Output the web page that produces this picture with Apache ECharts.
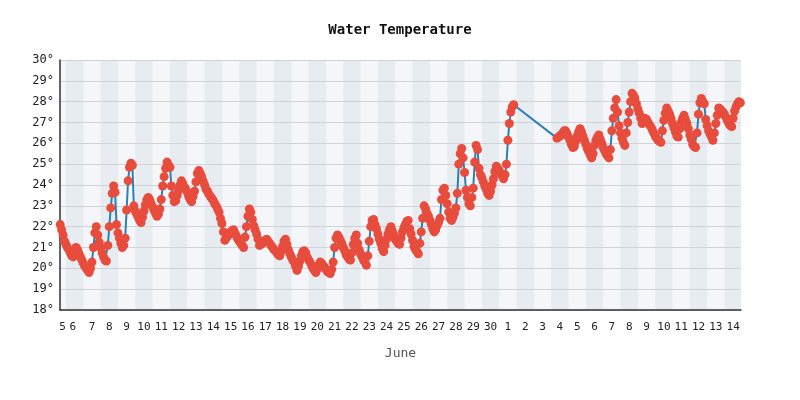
<!DOCTYPE html>
<html>
<head>
<meta charset="utf-8">
<title>Water Temperature</title>
<script src="https://cdn.jsdelivr.net/npm/echarts@6/dist/echarts.min.js"></script>
<style>
  html, body { margin: 0; padding: 0; background: #fff; }
  #chart { width: 800px; height: 400px; }
</style>
</head>
<body>
<div id="chart"></div>
<script>
// day-of-month shown under each daily band
const dayLabels = ['5', '6', '7', '8', '9', '10', '11', '12', '13', '14', '15', '16', '17', '18', '19', '20',
  '21', '22', '23', '24', '25', '26', '27', '28', '29', '30',
  '1', '2', '3', '4', '5', '6', '7', '8', '9', '10', '11', '12', '13', '14'];

const yTicks = [18, 19, 20, 21, 22, 23, 24, 25, 26, 27, 28, 29, 30];

// readings every 2 hours, time in days from the start of the first band
const stepDays = 1 / 12;
const firstRunStart = 0.665;
const secondRunStart = 29.33;

const firstRunTemps = [
  22.1, 21.85, 21.6, 21.3, 21.15, 21.0, 20.9, 20.75, 20.6, 20.55,
  20.8, 21.0, 20.9, 20.7, 20.55, 20.4, 20.25, 20.1, 20.0, 19.9,
  19.8, 20.0, 20.3, 21.0, 21.7, 22.0, 21.6, 21.25, 21.0, 20.75,
  20.55, 20.4, 20.35, 21.1, 22.0, 22.9, 23.6, 23.95, 23.65, 22.1,
  21.7, 21.45, 21.2, 21.0, 21.1, 21.45, 22.8, 24.2, 24.85, 25.05,
  24.95, 23.0, 22.75, 22.6, 22.45, 22.3, 22.2, 22.45, 22.75, 23.05,
  23.3, 23.4, 23.3, 23.1, 22.95, 22.8, 22.65, 22.5, 22.6, 22.85,
  23.3, 23.95, 24.4, 24.8, 25.1, 24.95, 24.85, 23.95, 23.5, 23.2,
  23.25, 23.5, 23.75, 24.0, 24.2, 24.05, 23.9, 23.8, 23.65, 23.45,
  23.3, 23.2, 23.45, 23.7, 24.15, 24.55, 24.7, 24.55, 24.4, 24.2,
  24.0, 23.8, 23.7, 23.55, 23.45, 23.35, 23.25, 23.1, 23.0, 22.85,
  22.7, 22.4, 22.15, 21.75, 21.35, 21.45, 21.55, 21.65, 21.75, 21.8,
  21.85, 21.7, 21.55, 21.4, 21.3, 21.2, 21.1, 21.0, 21.5, 22.0,
  22.5, 22.85, 22.7, 22.35, 22.05, 21.85, 21.65, 21.4, 21.1, 21.15,
  21.2, 21.3, 21.35, 21.4, 21.3, 21.2, 21.1, 21.0, 20.9, 20.85,
  20.75, 20.65, 20.6, 20.8, 21.05, 21.3, 21.4, 21.15, 20.9, 20.7,
  20.55, 20.4, 20.3, 20.1, 19.9, 20.1, 20.35, 20.6, 20.8, 20.85,
  20.75, 20.55, 20.4, 20.3, 20.15, 20.0, 19.9, 19.8, 19.95, 20.15,
  20.3, 20.25, 20.15, 20.05, 19.95, 19.85, 19.8, 19.75, 19.95, 20.3,
  21.0, 21.45, 21.6, 21.5, 21.35, 21.2, 21.0, 20.85, 20.65, 20.55,
  20.45, 20.4, 20.75, 21.15, 21.45, 21.6, 21.2, 20.9, 20.7, 20.55,
  20.4, 20.3, 20.15, 20.6, 21.3, 22.0, 22.3, 22.35, 22.1, 21.9,
  21.65, 21.4, 21.2, 20.95, 20.8, 21.1, 21.4, 21.65, 21.85, 22.0,
  21.8, 21.6, 21.4, 21.3, 21.2, 21.15, 21.45, 21.75, 21.95, 22.1,
  22.25, 22.3, 21.9, 21.65, 21.35, 21.05, 20.9, 20.8, 20.7, 21.2,
  21.75, 22.4, 23.0, 22.85, 22.65, 22.5, 22.3, 22.1, 21.9, 21.75,
  21.85, 22.05, 22.2, 22.4, 23.3, 23.75, 23.85, 23.5, 23.1, 22.7,
  22.4, 22.3, 22.45, 22.65, 22.9, 23.6, 25.0, 25.5, 25.75, 25.3,
  24.6, 23.75, 23.4, 23.1, 23.0, 23.4, 23.85, 25.1, 25.9, 25.7,
  24.8, 24.5, 24.35, 24.15, 23.95, 23.8, 23.6, 23.5, 23.7, 24.0,
  24.3, 24.65, 24.9, 24.8, 24.7, 24.55, 24.45, 24.3, 24.5, 25.0,
  26.15, 26.95, 27.5, 27.75, 27.85
];

const secondRunTemps = [
  26.25, 26.3, 26.35, 26.4, 26.5, 26.6, 26.6, 26.45, 26.3, 26.15,
  25.95, 25.8, 25.85, 26.1, 26.35, 26.55, 26.7, 26.55, 26.35, 26.15,
  25.95, 25.75, 25.6, 25.45, 25.3, 25.5, 25.9, 26.15, 26.3, 26.4,
  26.2, 26.0, 25.8, 25.65, 25.5, 25.4, 25.3, 25.7, 26.6, 27.2,
  27.7, 28.1, 27.5, 26.85, 26.5, 26.25, 26.05, 25.9, 26.5, 27.0,
  27.5, 28.0, 28.4, 28.3, 28.15, 27.9, 27.65, 27.45, 27.2, 26.95,
  27.1, 27.2, 27.15, 27.0, 26.9, 26.8, 26.65, 26.5, 26.35, 26.25,
  26.15, 26.1, 26.05, 26.6, 27.1, 27.45, 27.7, 27.55, 27.4, 27.2,
  26.95, 26.75, 26.55, 26.35, 26.3, 26.7, 27.0, 27.2, 27.35, 27.15,
  26.95, 26.7, 26.4, 26.2, 25.95, 25.85, 25.8, 26.5, 27.4, 27.95,
  28.15, 28.0, 27.9, 27.15, 26.85, 26.6, 26.45, 26.3, 26.15, 26.5,
  26.95, 27.35, 27.7, 27.65, 27.55, 27.5, 27.4, 27.25, 27.1, 26.95,
  26.85, 26.8, 27.2, 27.55, 27.75, 27.9, 28.0, 27.95
];

const xMin = 0.654;
const xMax = 39.95;
const monoFont = 'DejaVu Sans Mono';

function toPoints(start, temps) {
  return temps.map((t, i) => [start + i * stepDays, t]);
}

const points = toPoints(firstRunStart, firstRunTemps).concat(toPoints(secondRunStart, secondRunTemps));

// label positions: centre of each day band (first band is cut off by the axis)
const labelValues = dayLabels.map((d, n) => {
  if (n === 0) return 0.8;
  if (n === 1) return 1.4;
  return n + 0.5;
});

// shaded bands on every other day
const dayBands = [];
for (let n = 1; n < dayLabels.length; n += 2) {
  dayBands.push([{ xAxis: n }, { xAxis: Math.min(n + 1, xMax) }]);
}

var chart = echarts.init(document.getElementById('chart'), null, { renderer: 'canvas' });

var option = {
  animation: false,
  title: {
    text: 'Water Temperature',
    left: 'center',
    top: 18,
    textStyle: { fontFamily: monoFont, fontSize: 14, fontWeight: 'bold', color: '#111' }
  },
  grid: {
    left: 60,
    right: 59,
    top: 60,
    bottom: 90,
    show: true,
    borderWidth: 0,
    backgroundColor: '#f4f6f9'
  },
  xAxis: {
    type: 'value',
    min: xMin,
    max: xMax,
    z: 2,
    name: 'June',
    nameLocation: 'middle',
    nameGap: 37,
    nameTextStyle: { fontFamily: monoFont, fontSize: 13, color: '#555' },
    axisLine: { show: true, lineStyle: { color: '#333', width: 1.5 } },
    axisTick: { show: false },
    splitLine: { show: false },
    axisLabel: {
      customValues: labelValues,
      margin: 12,
      fontFamily: monoFont,
      fontSize: 11,
      color: '#222',
      formatter: function (value) {
        return dayLabels[Math.floor(value)];
      }
    }
  },
  yAxis: {
    type: 'value',
    min: yTicks[0],
    max: yTicks[yTicks.length - 1],
    interval: 1,
    z: 2,
    axisLine: { show: true, lineStyle: { color: '#333', width: 1.5 } },
    axisTick: { show: false },
    splitLine: { show: true, lineStyle: { color: '#d0d4d9', width: 1 } },
    axisLabel: {
      margin: 6,
      fontFamily: monoFont,
      fontSize: 12,
      color: '#222',
      formatter: function (value) {
        return value + '°';
      }
    }
  },
  series: [
    {
      // background day bands only
      type: 'line',
      data: [],
      z: 1,
      silent: true,
      markArea: {
        silent: true,
        itemStyle: { color: '#e7ecf0' },
        data: dayBands
      }
    },
    {
      type: 'line',
      data: points,
      z: 3,
      showSymbol: true,
      showAllSymbol: true,
      symbol: 'circle',
      symbolSize: 9,
      itemStyle: { color: '#e74c3c', borderWidth: 0 },
      lineStyle: { color: '#2a80b9', width: 2 },
      emphasis: { disabled: true }
    }
  ]
};

chart.setOption(option);
</script>
</body>
</html>
